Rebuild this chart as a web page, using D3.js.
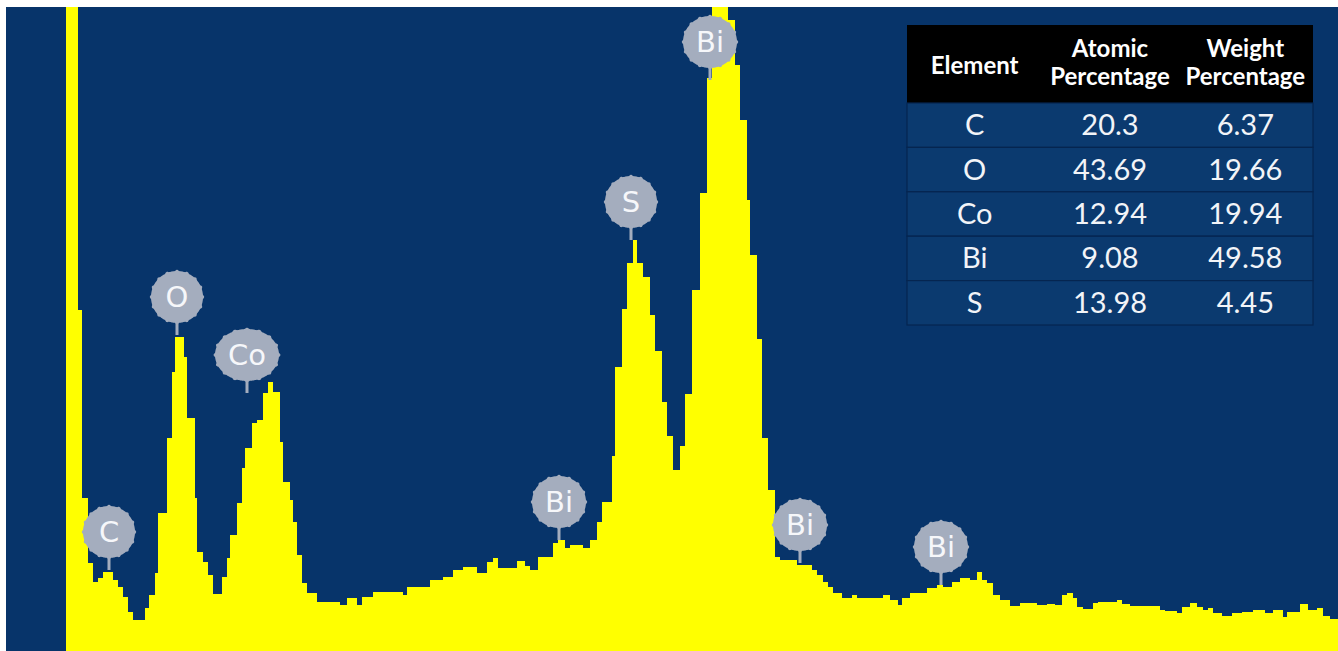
<!DOCTYPE html>
<html>
<head>
<meta charset="utf-8">
<script src="https://cdn.jsdelivr.net/npm/d3@7"></script>
<style>
  body { margin: 0; background: #fff; }
  svg { display: block; }
</style>
</head>
<body>
<svg id="eds" width="1338" height="651"></svg>
<script>
// EDS spectrum, step data: left edge of each channel group (keV) and counts
var energy = [0.00,0.12,0.16,0.22,0.27,0.32,0.37,0.47,0.52,0.57,
  0.62,0.67,0.79,0.83,0.89,0.92,1.01,1.06,1.09,1.18,
  1.21,1.29,1.31,1.37,1.42,1.47,1.56,1.61,1.64,1.71,
  1.76,1.79,1.86,1.91,1.97,2.02,2.07,2.14,2.17,2.24,
  2.27,2.31,2.36,2.41,2.51,2.74,2.81,2.91,2.96,3.07,
  3.37,3.41,3.64,3.77,3.87,3.97,4.11,4.21,4.27,4.32,
  4.51,4.59,4.64,4.72,4.87,4.92,4.99,5.04,5.17,5.24,
  5.31,5.36,5.46,5.49,5.56,5.61,5.67,5.71,5.77,5.84,
  5.89,5.96,6.01,6.07,6.14,6.19,6.26,6.34,6.41,6.46,
  6.62,6.69,6.74,6.81,6.84,6.91,6.96,7.02,7.09,7.14,
  7.31,7.46,7.51,7.57,7.62,7.67,7.76,7.86,7.91,8.17,
  8.24,8.32,8.36,8.44,8.61,8.71,8.77,8.86,8.94,9.04,
  9.11,9.16,9.21,9.27,9.34,9.44,9.54,9.71,9.81,9.89,
  9.96,10.01,10.07,10.11,10.17,10.27,10.32,10.51,10.56,10.64,
  10.94,10.99,11.11,11.16,11.24,11.31,11.37,11.42,11.47,11.56,
  11.66,11.76,11.87,11.99,12.07,12.17,12.21,12.34,12.42,12.51,
  12.57,12.64];
var counts = [3400,1705,765,440,345,365,395,355,320,270,
  195,155,215,280,390,690,1065,1395,1570,1470,
  1165,765,495,445,380,285,370,465,580,740,
  915,1015,1140,1155,1290,1345,1295,1045,845,755,
  645,480,340,290,245,230,265,230,270,295,
  280,320,355,370,405,420,390,445,465,415,
  450,425,405,470,540,555,515,530,515,555,
  645,745,975,1420,1710,1940,2055,1940,1870,1680,
  1500,1245,1075,905,1025,1285,1805,2290,2865,3300,
  3155,2930,2655,2255,1980,1560,1065,805,470,455,
  430,405,380,345,320,290,265,280,265,280,
  255,230,265,290,315,330,320,345,365,355,
  395,355,340,280,255,225,240,230,235,230,
  280,290,265,220,210,240,245,255,235,225,
  205,200,190,220,240,220,205,215,190,175,
  190,195,205,190,205,170,195,235,205,215,
  175,160];

// peak markers
var peakLabels = ["C", "O", "Co", "Bi", "S", "Bi", "Bi", "Bi"];
var peakEnergy = [0.43, 1.11, 1.81, 4.93, 5.65, 6.44, 7.34, 8.75];
var peakCounts = [405, 1580, 1290, 555, 2055, 2855, 440, 330];

// quantification table
var tableHeader = [["Element"], ["Atomic", "Percentage"], ["Weight", "Percentage"]];
var elements = ["C", "O", "Co", "Bi", "S"];
var atomicPct = ["20.3", "43.69", "12.94", "9.08", "13.98"];
var weightPct = ["6.37", "19.66", "19.94", "49.58", "4.45"];

var svg = d3.select("#eds");
var pLeft = 6, pTop = 7, pRight = 1338, pBottom = 651;

var x = d3.scaleLinear().domain([0, 12.72]).range([66, 1338]);
var y = d3.scaleLinear().domain([0, 3220]).range([pBottom, pTop]);

svg.append("rect")
    .attr("x", pLeft).attr("y", pTop)
    .attr("width", pRight - pLeft).attr("height", pBottom - pTop)
    .attr("fill", "#07346a");

svg.append("clipPath").attr("id", "plotclip")
  .append("rect")
    .attr("x", pLeft).attr("y", pTop)
    .attr("width", pRight - pLeft).attr("height", pBottom - pTop);

var spectrum = energy.map(function(e, i) { return {e: e, c: counts[i]}; });
spectrum.push({e: x.domain()[1], c: counts[counts.length - 1]});

var area = d3.area()
    .curve(d3.curveStepAfter)
    .x(function(d) { return x(d.e); })
    .y0(y(0))
    .y1(function(d) { return y(d.c); });

svg.append("path")
    .datum(spectrum)
    .attr("clip-path", "url(#plotclip)")
    .attr("fill", "#ffff00")
    .attr("d", area);

// cog shaped marker outline
function cog(rx, ry) {
    var n = 16;
    var pts = d3.range(0, 360, 1.5).map(function(a) {
        var t = a * Math.PI / 180;
        var k = 1 + 0.045 * Math.pow(Math.max(0, Math.cos(n * t)), 2);
        return [rx * k * Math.cos(t), ry * k * Math.sin(t)];
    });
    return d3.line().curve(d3.curveCardinalClosed)(pts);
}

var marks = svg.append("g").attr("clip-path", "url(#plotclip)")
  .selectAll("g.peak")
  .data(peakLabels.map(function(l, i) { return {label: l, e: peakEnergy[i], c: peakCounts[i]}; }))
  .enter().append("g")
    .attr("class", "peak")
    .attr("transform", function(d) { return "translate(" + x(d.e) + "," + (y(d.c) - 38) + ")"; });

marks.append("rect")
    .attr("x", -1.5).attr("y", 18)
    .attr("width", 3).attr("height", 20)
    .attr("fill", "#a4adbe");

var shapes = marks.append("path").attr("fill", "#a4adbe");

var txt = marks.append("text")
    .attr("text-anchor", "middle")
    .attr("dy", "0.36em")
    .attr("font-family", "DejaVu Sans, sans-serif")
    .attr("font-size", 29)
    .attr("fill", "#f6f7fa")
    .text(function(d) { return d.label; });

txt.each(function(d) { d.w = this.getComputedTextLength(); });
shapes.attr("d", function(d) { return cog(Math.max(26, d.w / 2 + 13), 26); });

// table
var col = d3.scaleBand().domain([0, 1, 2]).range([907, 1313]);
var row = d3.scaleBand().domain(elements).range([103, 325]);
var table = svg.append("g");

table.append("rect")
    .attr("x", 907).attr("y", 25)
    .attr("width", 406).attr("height", 78)
    .attr("fill", "#000");

table.selectAll("rect.row")
  .data(elements).enter().append("rect")
    .attr("class", "row")
    .attr("x", 907).attr("y", function(d) { return row(d); })
    .attr("width", 406).attr("height", row.bandwidth())
    .attr("fill", "#0b3a6f")
    .attr("stroke", "#052550")
    .attr("stroke-width", 1.2);

tableHeader.forEach(function(lines, j) {
    var t = table.append("text")
        .attr("text-anchor", "middle")
        .attr("font-family", "Lato, sans-serif")
        .attr("font-weight", "bold")
        .attr("font-size", 24)
        .attr("fill", "#fff");
    lines.forEach(function(s, k) {
        t.append("tspan")
            .attr("x", col(j) + col.bandwidth() / 2)
            .attr("y", lines.length === 1 ? 74 : 57 + k * 28)
            .text(s);
    });
});

var cells = [elements, atomicPct, weightPct];
cells.forEach(function(vals, j) {
    table.selectAll("text.c" + j)
      .data(vals).enter().append("text")
        .attr("class", "c" + j)
        .attr("x", col(j) + col.bandwidth() / 2)
        .attr("y", function(d, i) { return row(elements[i]) + row.bandwidth() / 2 + 10; })
        .attr("text-anchor", "middle")
        .attr("font-family", "Lato, sans-serif")
        .attr("font-size", 29)
        .attr("fill", "#f2f4f8")
        .text(function(d) { return d; });
});
</script>
</body>
</html>
